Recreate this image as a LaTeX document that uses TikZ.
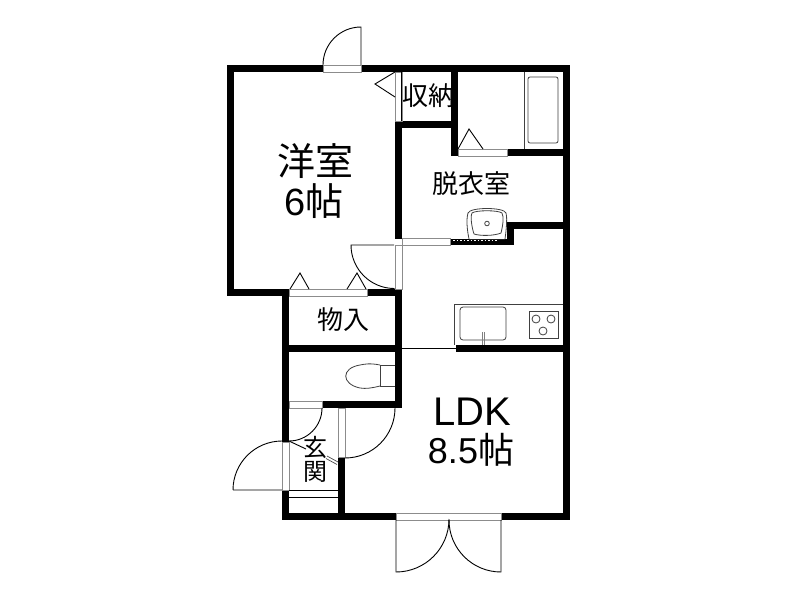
\documentclass[tikz,border=0pt]{standalone}
\usepackage{fontspec}
\setmainfont{Liberation Sans}
\newfontfamily\cjk{Noto Sans CJK JP}
\tikzset{
  wall/.style={fill=black,draw=none},
  opening/.style={fill=white,draw=black!45,line width=0.8pt},
  thin/.style={draw=black,line width=0.9pt},
  fine/.style={draw=black!75,line width=0.8pt},
  big/.style={font=\fontsize{38pt}{38pt}\selectfont,inner sep=0pt},
  mid/.style={font=\fontsize{26pt}{26pt}\selectfont\cjk,inner sep=0pt},
}
\begin{document}
\begin{tikzpicture}[x=1pt,y=-1pt]
\useasboundingbox (0,0) rectangle (800,600);
\fill[white] (0,0) rectangle (800,600);
% fixtures under walls
\draw[fine] (524,72) -- (524,149);
\draw[fine,rounded corners=2pt] (528,77) rectangle (558,143);
\draw[fine] (454,345) -- (454,304) -- (563,304);
\draw[fine,rounded corners=3pt] (460,307) rectangle (506,340);
\draw[draw=black!50,line width=0.7pt] (482,332) -- (482,345) (484.5,332) -- (484.5,345);
\draw[fine] (529,311) rectangle (558,338);
\draw[fine] (536,319) circle (4) (551,319) circle (4) (543,331) circle (4);
\draw[thin] (402,348) -- (456,348);
% walls
\fill[wall] (227,65) rectangle (570,72);
\fill[wall] (227,65) rectangle (234,296);
\fill[wall] (563,65) rectangle (570,520);
\fill[wall] (395,121) rectangle (402,239);
\fill[wall] (395,121) rectangle (458,128);
\fill[wall] (451,65) rectangle (458,156);
\fill[wall] (458,149) rectangle (563,156);
\fill[wall] (450,239) rectangle (514,245);
\fill[wall] (507,222) rectangle (514,245);
\fill[wall] (507,222) rectangle (563,229);
\fill[wall] (227,289) rectangle (402,296);
\fill[wall] (395,289) rectangle (402,408);
\fill[wall] (282,289) rectangle (289,442);
\fill[wall] (282,490) rectangle (289,520);
\fill[wall] (282,345) rectangle (402,352);
\fill[wall] (322,401) rectangle (402,408);
\fill[wall] (338,457) rectangle (345,520);
\fill[wall] (282,513) rectangle (570,520);
\fill[wall] (456,345) rectangle (563,352);
% openings
\path[opening] (323,65) rectangle (361,72);
\path[opening] (395,72) rectangle (402,121);
\path[opening] (458,149) rectangle (507,156);
\path[opening] (402,238) rectangle (450,245);
\path[opening] (395,245) rectangle (402,289);
\path[opening] (289,289) rectangle (367,296);
\path[opening] (289,401) rectangle (322,408);
\path[opening] (282,442) rectangle (289,490);
\path[opening] (338,408) rectangle (345,457);
\path[opening] (396,513) rectangle (501,520);
% doors
\draw[thin] (323,65) arc[start angle=180,end angle=270,radius=38] -- (361,65);
\draw[thin] (394,245) -- (351,245) arc[start angle=180,end angle=90,radius=43.5];
\draw[thin] (233,490) -- (282,490) (233,490) arc[start angle=180,end angle=270,radius=49];
\draw[thin] (322,408) arc[start angle=0,end angle=90,radius=33];
\draw[thin] (395,408) arc[start angle=0,end angle=90,radius=50];
\draw[thin] (396,520) -- (396,572) arc[start angle=90,end angle=0,radius=53];
\draw[thin] (501,520) -- (501,572) arc[start angle=90,end angle=180,radius=52];
\draw[thin] (289,441) -- (306,449);
\draw[draw=black!70,line width=0.7pt] (327,456) -- (338,462) (326,458.5) -- (337,464.5);
\draw[thin] (289,490) -- (338,490);
\draw[thin] (289,497) -- (338,497);
% triangles
\draw[thin] (395,72) -- (375,84) -- (395,97);
\draw[thin] (458,149) -- (469,129) -- (483,149);
\draw[thin] (290,289) -- (300,273) -- (309,289);
\draw[thin] (347,289) -- (357,273) -- (366,289);
% closet inner line
\draw[thin] (401,72) -- (401,121);
% wash basin
\draw[fine,fill=white] (469,239) .. controls (466,225) and (467,216) .. (468,213) .. controls (470,207) and (504,207) .. (506,213) .. controls (507,216) and (507,225) .. (505,239);
\draw[fine] (474,234) .. controls (480,236) and (494,236) .. (501,233) .. controls (503,225) and (504,217) .. (502,213) .. controls (498,210) and (476,210) .. (472,213) .. controls (470,217) and (472,228) .. (474,234);
\draw[fine] (487,223.5) circle (2.3);
\draw[white,line width=1.3pt,dash pattern=on 1.5pt off 2pt] (453,240.5) -- (498,240.5);
% toilet
\draw[fine] (395,365) -- (380,365) -- (380,386) -- (395,386);
\draw[fine] (380,365) .. controls (370,363) and (365,364) .. (360,365) .. controls (341,368) and (341,384) .. (360,388) .. controls (366,389) and (372,388) .. (380,386);
% labels
\node[big] (yoshitsu) at (315,161.5) {\cjk 洋室};
\node[big] (six) at (314,201) {6\cjk 帖};
\node[big,font=\fontsize{40pt}{40pt}\selectfont] (ldk) at (472,412) {LDK};
\node[big,font=\fontsize{36pt}{36pt}\selectfont] (eight) at (471,450) {8.5\cjk 帖};
\node[mid] (datsui) at (471,184) {脱衣室};
\node[mid] (mono) at (343,320) {物入};
\node[mid] (shuno) at (428,96) {収納};
\node[mid,font=\fontsize{24pt}{24pt}\selectfont\cjk] (gen) at (315,447) {玄};
\node[mid,font=\fontsize{24pt}{24pt}\selectfont\cjk] (kan) at (315,472) {関};
\end{tikzpicture}
\end{document}
